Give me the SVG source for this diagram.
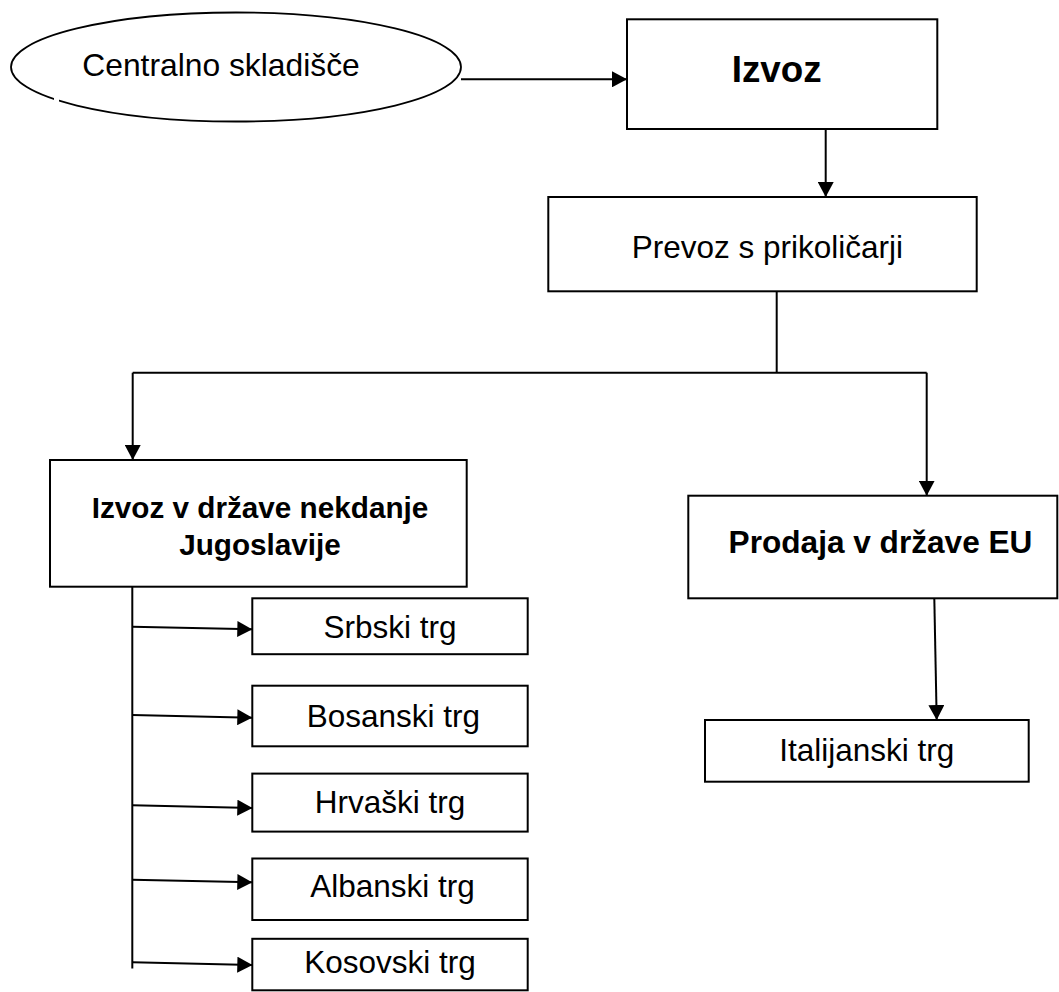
<svg xmlns="http://www.w3.org/2000/svg" width="1059" height="992" viewBox="0 0 1059 992">
<style>
.box{fill:#fff;stroke:#000;stroke-width:2}
.t{font-family:"Liberation Sans",Arial,sans-serif;font-size:31.5px;fill:#000;text-anchor:middle}
.b{font-weight:bold}
.c{fill:none;stroke:#000;stroke-width:2}
</style>
<defs>
<marker id="ah" markerUnits="userSpaceOnUse" markerWidth="15" markerHeight="16" refX="15" refY="8" orient="auto" viewBox="0 0 15 16">
<path d="M0,0 L15,8 L0,16 z" fill="#000"/>
</marker>
</defs>
<rect width="1059" height="992" fill="#fff"/>
<g id="connectors">
<path class="c" d="M461,79.3 L627,79.3" marker-end="url(#ah)"/>
<path class="c" d="M825.7,129 L825.7,197" marker-end="url(#ah)"/>
<path class="c" d="M776.7,291 L776.7,372.7"/>
<path class="c" d="M132.7,372.7 L926.7,372.7"/>
<path class="c" d="M132.7,372.7 L132.7,460" marker-end="url(#ah)"/>
<path class="c" d="M926.7,372.7 L926.7,495.7" marker-end="url(#ah)"/>
<path class="c" d="M934.3,598 L936.7,720" marker-end="url(#ah)"/>
<path class="c" d="M132.3,586.7 L132.3,968.5"/>
<path class="c" d="M132.3,626.7 L252.3,629.3" marker-end="url(#ah)"/>
<path class="c" d="M132.3,715 L252.3,717.7" marker-end="url(#ah)"/>
<path class="c" d="M132.3,805.3 L252.3,808" marker-end="url(#ah)"/>
<path class="c" d="M132.3,879.7 L252.3,882.3" marker-end="url(#ah)"/>
<path class="c" d="M132.3,962.3 L252.3,965" marker-end="url(#ah)"/>
</g>
<g id="centralno">
<ellipse cx="236" cy="67" rx="225" ry="54.5" fill="#fff" stroke="#000" stroke-width="1.8"/>
<rect x="54" y="95" width="5" height="10" fill="#fff"/>
<text class="t" x="221" y="76" style="font-size:31.8px">Centralno skladišče</text>
</g>
<g id="izvoz">
<rect class="box" x="627" y="19.3" width="310.3" height="109.7"/>
<text class="t b" x="776.7" y="81.7" style="font-size:36.8px">Izvoz</text>
</g>
<g id="prevoz">
<rect class="box" x="548.3" y="197" width="428.4" height="94.3"/>
<text class="t" x="767.3" y="257.5">Prevoz s prikoličarji</text>
</g>
<g id="jugoslavija">
<rect class="box" x="50" y="460" width="416.7" height="126.7"/>
<text class="t b" x="260" y="518.3" style="font-size:29.7px">Izvoz v države nekdanje</text>
<text class="t b" x="260" y="555" style="font-size:29.7px">Jugoslavije</text>
</g>
<g id="eu">
<rect class="box" x="688.3" y="495.7" width="369" height="102.6"/>
<text class="t b" x="880.5" y="553.3" style="font-size:31.6px">Prodaja v države EU</text>
</g>
<g id="italijanski">
<rect class="box" x="705" y="720" width="323.7" height="61.7"/>
<text class="t" x="866.7" y="761">Italijanski trg</text>
</g>
<g id="srbski">
<rect class="box" x="252.3" y="598.3" width="275.4" height="55.9"/>
<text class="t" x="390" y="637.7">Srbski trg</text>
</g>
<g id="bosanski">
<rect class="box" x="252.3" y="685.7" width="275.4" height="60.6"/>
<text class="t" x="393.3" y="726.7">Bosanski trg</text>
</g>
<g id="hrvaski">
<rect class="box" x="252.3" y="773.6" width="275.4" height="58"/>
<text class="t" x="390" y="813.3">Hrvaški trg</text>
</g>
<g id="albanski">
<rect class="box" x="252.3" y="858.5" width="275.4" height="61.5"/>
<text class="t" x="392.5" y="897.3">Albanski trg</text>
</g>
<g id="kosovski">
<rect class="box" x="252.3" y="938.8" width="275.4" height="51.5"/>
<text class="t" x="390" y="973.3">Kosovski trg</text>
</g>
</svg>
